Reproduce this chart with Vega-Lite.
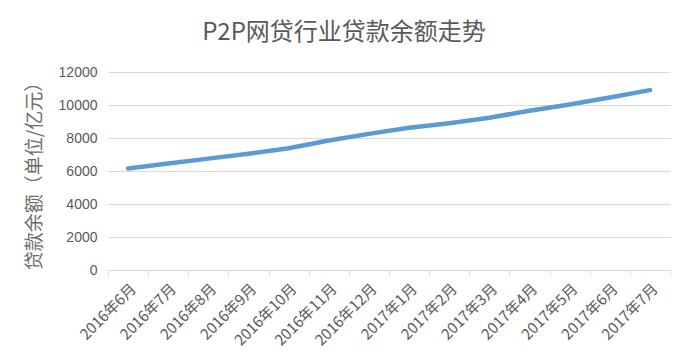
{
  "$schema": "https://vega.github.io/schema/vega-lite/v6.json",
  "width": 562,
  "height": 198,
  "autosize": {"type": "none"},
  "padding": {"left": 108, "top": 72, "right": 19, "bottom": 89},
  "background": "white",
  "title": {
    "text": "P2P网贷行业贷款余额走势",
    "font": "Noto Sans CJK SC",
    "fontSize": 24,
    "fontWeight": "normal",
    "color": "#595959",
    "anchor": "middle",
    "frame": "group",
    "dx": -45,
    "offset": 20
  },
  "config": {
    "view": {"stroke": null},
    "axis": {"labelColor": "#595959", "titleColor": "#6b6b6b"}
  },
  "data": {
    "values": [
      {"month": "2016年6月", "balance": 6150},
      {"month": "2016年7月", "balance": 6450},
      {"month": "2016年8月", "balance": 6750},
      {"month": "2016年9月", "balance": 7050},
      {"month": "2016年10月", "balance": 7380},
      {"month": "2016年11月", "balance": 7850},
      {"month": "2016年12月", "balance": 8250},
      {"month": "2017年1月", "balance": 8620},
      {"month": "2017年2月", "balance": 8900},
      {"month": "2017年3月", "balance": 9230},
      {"month": "2017年4月", "balance": 9650},
      {"month": "2017年5月", "balance": 10030},
      {"month": "2017年6月", "balance": 10450},
      {"month": "2017年7月", "balance": 10900}
    ]
  },
  "mark": {"type": "line", "color": "#5B9BD5", "strokeWidth": 4.5, "strokeCap": "round", "strokeJoin": "round"},
  "encoding": {
    "x": {
      "field": "month",
      "type": "nominal",
      "sort": null,
      "scale": {"type": "band", "paddingInner": 0, "paddingOuter": 0},
      "axis": {
        "title": null,
        "labelAngle": -45,
        "labelFont": "Noto Sans CJK SC",
        "labelFontSize": 15,
        "labelPadding": 6,
        "labelOverlap": false,
        "domainColor": "#D9D9D9",
        "tickColor": "#D9D9D9",
        "tickBand": "extent",
        "tickSize": 5,
        "grid": false
      }
    },
    "y": {
      "field": "balance",
      "type": "quantitative",
      "scale": {"domain": [0, 12000]},
      "axis": {
        "title": "贷款余额（单位/亿元）",
        "titleFont": "Noto Sans CJK SC",
        "titleFontSize": 19,
        "titleFontWeight": "normal",
        "titlePadding": 14,
        "values": [0, 2000, 4000, 6000, 8000, 10000, 12000],
        "format": "d",
        "labelFont": "Liberation Sans",
        "labelFontSize": 14,
        "labelPadding": 11,
        "domain": false,
        "ticks": false,
        "gridColor": "#D9D9D9",
        "gridWidth": 1
      }
    }
  }
}
